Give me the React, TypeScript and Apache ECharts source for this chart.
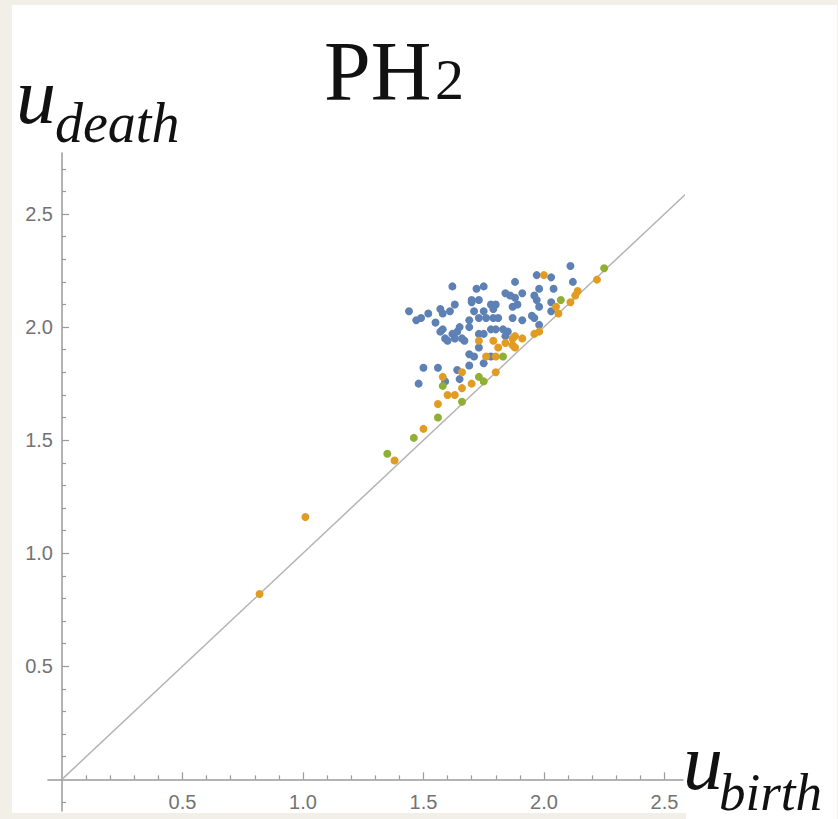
import React, { useEffect, useRef } from 'react';
import * as echarts from 'echarts';

// ---- data (u_birth, u_death) ----
const bluePoints: [number, number][] = [
  [1.62, 2.18], [1.72, 2.17], [1.75, 2.18], [1.70, 2.12], [1.70, 2.11], [1.73, 2.12],
  [1.63, 2.10], [1.44, 2.07], [1.52, 2.06], [1.49, 2.04], [1.47, 2.03], [1.57, 2.08],
  [1.58, 2.06], [1.61, 2.07], [1.55, 2.02], [1.69, 2.03], [1.71, 2.07], [1.75, 2.07],
  [1.78, 2.10], [1.80, 2.10], [1.73, 2.04], [1.76, 2.04], [1.79, 2.04], [1.81, 2.04],
  [1.65, 2.00], [1.58, 1.99], [1.57, 1.98], [1.62, 1.97], [1.64, 1.98], [1.69, 2.00],
  [1.73, 1.97], [1.75, 1.97], [1.78, 1.99], [1.80, 1.99], [1.59, 1.95], [1.60, 1.94],
  [1.63, 1.95], [1.66, 1.95], [1.67, 1.94], [1.73, 1.91], [1.69, 1.88], [1.71, 1.87],
  [1.50, 1.82], [1.56, 1.82], [1.69, 1.83], [2.11, 2.27], [1.97, 2.23], [2.03, 2.22],
  [1.88, 2.20], [2.12, 2.20], [1.98, 2.17], [2.04, 2.17], [1.84, 2.15], [1.86, 2.14],
  [1.88, 2.13], [1.91, 2.15], [1.96, 2.14], [1.97, 2.12], [2.03, 2.11], [2.03, 2.07],
  [1.89, 2.10], [1.87, 2.09], [1.79, 2.08], [1.98, 2.09], [1.95, 2.05], [1.96, 2.04],
  [1.91, 2.03], [1.87, 2.04], [1.98, 2.01], [1.83, 1.99], [1.85, 1.98], [1.84, 1.96],
  [1.78, 1.87], [1.64, 1.81], [1.75, 1.84], [1.65, 1.77], [1.59, 1.76], [1.48, 1.75],
];

const orangePoints: [number, number][] = [
  [1.73, 1.94], [1.79, 1.94], [1.81, 1.91], [1.76, 1.87], [1.80, 1.87], [2.00, 2.23],
  [2.22, 2.21], [2.14, 2.16], [2.13, 2.14], [2.11, 2.11], [2.05, 2.09], [2.06, 2.06],
  [1.98, 1.98], [1.96, 1.97], [1.91, 1.95], [1.88, 1.96], [1.87, 1.95], [1.84, 1.93],
  [1.87, 1.92], [1.88, 1.91], [1.58, 1.78], [1.66, 1.80], [1.70, 1.75], [1.80, 1.80],
  [1.66, 1.73], [1.60, 1.70], [1.63, 1.70], [1.56, 1.66], [1.50, 1.55], [1.38, 1.41],
  [1.01, 1.16], [0.82, 0.82],
];

const greenPoints: [number, number][] = [
  [2.25, 2.26], [2.07, 2.12], [1.83, 1.87], [1.58, 1.74], [1.73, 1.78], [1.75, 1.76],
  [1.66, 1.67], [1.56, 1.60], [1.46, 1.51], [1.35, 1.44],
];

const diagonal: [number, number][] = [[0, 0], [2.63, 2.63]];

// ---- axes ----
const xRange = [-0.058, 2.577];
const yRange = [-0.14, 2.77];
const xMajorTicks = [0.5, 1.0, 1.5, 2.0, 2.5];
const xMinorTicks = [0.1, 0.2, 0.3, 0.4, 0.6, 0.7, 0.8, 0.9, 1.1, 1.2, 1.3, 1.4, 1.6, 1.7, 1.8, 1.9, 2.1, 2.2, 2.3, 2.4];
const yMajorTicks = [0.5, 1.0, 1.5, 2.0, 2.5];
const yMinorTicks = [-0.1, 0.1, 0.2, 0.3, 0.4, 0.6, 0.7, 0.8, 0.9, 1.1, 1.2, 1.3, 1.4, 1.6, 1.7, 1.8, 1.9, 2.1, 2.2, 2.3, 2.4, 2.6, 2.7];

const titleMain = 'PH';
const titleSub = '2';
const yName = ['u', 'death'];
const xName = ['u', 'birth'];

const axisColor = '#9a9a9a';
const labelColor = '#737373';
const seriesColors = ['#5E81B5', '#E19C24', '#8FB032'];

function makeAxis(dim: 'x' | 'y', major: boolean, range: number[], ticks: number[]) {
  return {
    type: 'value',
    min: range[0],
    max: range[1],
    position: dim === 'x' ? 'bottom' : 'left',
    axisLine: {
      show: major,
      onZero: true,
      onZeroAxisIndex: 0,
      lineStyle: { color: axisColor, width: 1.5 },
    },
    axisTick: {
      show: true,
      inside: true,
      length: major ? 7 : 4,
      customValues: ticks,
      lineStyle: { color: axisColor, width: 1.2 },
    },
    axisLabel: major
      ? {
          show: true,
          customValues: ticks,
          formatter: (v: number) => v.toFixed(1),
          margin: dim === 'x' ? -19 : -5,
          color: labelColor,
          fontSize: 20,
          fontFamily: 'Liberation Sans, Arial, sans-serif',
        }
      : { show: false },
    splitLine: { show: false },
  };
}

export default function App() {
  const ref = useRef<HTMLDivElement>(null);

  useEffect(() => {
    if (!ref.current) return;
    const chart = echarts.init(ref.current, undefined, { renderer: 'svg' });
    const serif = 'Liberation Serif, Times New Roman, serif';
    const scatter = (pts: [number, number][], color: string) => ({
      type: 'scatter',
      data: pts,
      symbol: 'circle',
      symbolSize: 8,
      itemStyle: { color, opacity: 1 },
      xAxisIndex: 0,
      yAxisIndex: 0,
      z: 3,
    });
    chart.setOption({
      animation: false,
      backgroundColor: 'transparent',
      grid: { left: 48, top: 153, width: 635, height: 658, containLabel: false, outerBoundsMode: 'none' },
      xAxis: [makeAxis('x', true, xRange, xMajorTicks), makeAxis('x', false, xRange, xMinorTicks)],
      yAxis: [makeAxis('y', true, yRange, yMajorTicks), makeAxis('y', false, yRange, yMinorTicks)],
      series: [
        {
          type: 'line',
          data: diagonal,
          symbol: 'none',
          clip: false,
          lineStyle: { color: '#b4b4b4', width: 1.5 },
          xAxisIndex: 0,
          yAxisIndex: 0,
          z: 1,
          silent: true,
        },
        scatter(bluePoints, seriesColors[0]),
        scatter(orangePoints, seriesColors[1]),
        scatter(greenPoints, seriesColors[2]),
      ],
      graphic: [
        { type: 'text', x: 324, y: 71, style: { text: titleMain, font: `84px ${serif}`, fill: '#111', verticalAlign: 'middle' } },
        { type: 'text', x: 435, y: 79, style: { text: titleSub, font: `58px ${serif}`, fill: '#111', verticalAlign: 'middle' } },
        { type: 'text', x: 16, y: 96, style: { text: yName[0], font: `italic 80px ${serif}`, fill: '#111', verticalAlign: 'middle' } },
        { type: 'text', x: 55, y: 123, style: { text: yName[1], font: `italic 56px ${serif}`, fill: '#111', verticalAlign: 'middle' } },
        { type: 'text', x: 683, y: 762, style: { text: xName[0], font: `italic 80px ${serif}`, fill: '#111', verticalAlign: 'middle' } },
        { type: 'text', x: 719, y: 792, style: { text: xName[1], font: `italic 53px ${serif}`, fill: '#111', verticalAlign: 'middle' } },
      ],
    });
    return () => chart.dispose();
  }, []);

  return (
    <div style={{ position: 'absolute', left: 0, top: 0, width: 838, height: 819, background: '#f2efe9', overflow: 'hidden' }}>
      <div style={{ position: 'absolute', left: 12, top: 5, width: 825, height: 808, background: '#ffffff' }} />
      <div style={{ position: 'absolute', left: 686, top: 800, width: 151, height: 19, background: '#ffffff' }} />
      <div ref={ref} style={{ position: 'absolute', left: 0, top: 0, width: 838, height: 819 }} />
    </div>
  );
}
